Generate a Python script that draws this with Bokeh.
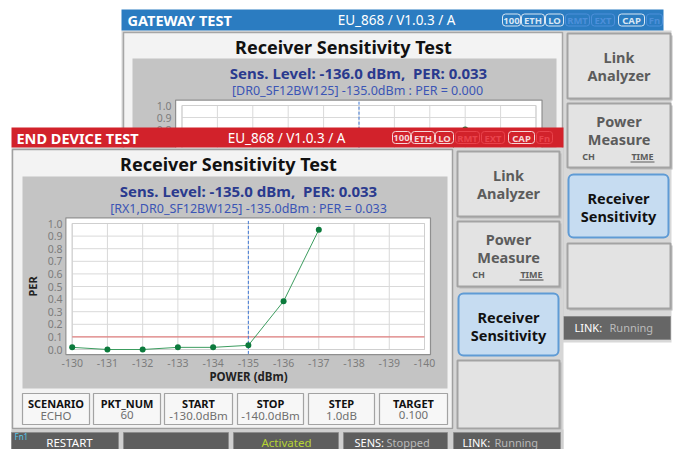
import numpy as np
from bokeh.plotting import figure
from bokeh.models import Range1d
from bokeh.core.properties import value
from bokeh.embed import file_html
from bokeh.resources import INLINE

# ---------------- data ----------------
ed_power = [-130, -131, -132, -133, -134, -135, -136, -137]
ed_per = [0.017, 0.0, 0.0, 0.017, 0.017, 0.033, 0.383, 0.95]
gw_power = [-130, -131, -132, -133, -134, -135, -136, -137, -138]
gw_per = [0.0, 0.0, 0.0, 0.0, 0.0, 0.0, 0.033, 0.35, 0.8]
ed_marker = -135.0
gw_marker = -135.0
target_per = 0.1
x_ticks = [-130, -131, -132, -133, -134, -135, -136, -137, -138, -139, -140]
x_tick_labels = [str(v) for v in x_ticks]
y_ticks = [0.0, 0.1, 0.2, 0.3, 0.4, 0.5, 0.6, 0.7, 0.8, 0.9, 1.0]
y_tick_labels = ["%.1f" % v for v in y_ticks]
param_names = ["SCENARIO", "PKT_NUM", "START", "STOP", "STEP", "TARGET"]
param_values = ["ECHO", "60", "-130.0dBm", "-140.0dBm", "1.0dB", "0.100"]
icons = ["100", "ETH", "LO", "RMT", "EXT", "CAP", "Fn"]
icons_on = [True, True, True, False, False, True, False]

FONT = value("Noto Sans")
NB = "\u00a0"
W, H = 677, 449

p = figure(width=W, height=H, output_backend="svg", toolbar_location=None,
           x_range=Range1d(0, W), y_range=Range1d(H, 0), min_border=0,
           x_axis_type=None, y_axis_type=None)
p.grid.visible = False
p.outline_line_color = None
p.background_fill_color = "white"
p.border_fill_color = "white"


def lin_range(va, pa, vb, pb, p0, p1):
    k = (vb - va) / (pb - pa)
    return Range1d(start=va + (p0 - pa) * k, end=va + (p1 - pa) * k)


p.extra_x_ranges = {
    "ed_x": lin_range(-130, 71.7, -140, 424.0, 0, W),
    "gw_x": lin_range(-130, 181.5, -140, 535.5, 0, W),
}
p.extra_y_ranges = {
    "ed_y": lin_range(0, 349.0, 1, 223.0, H, 0),
    "gw_y": lin_range(0, 225.0, 1, 105.0, H, 0),
}


def rect(l, r, t, b, fill, line=None, lw=1, radius=0, xr="default", yr="default"):
    kw = {}
    if radius:
        kw["border_radius"] = radius
    p.quad(left=[l], right=[r], top=[t], bottom=[b], fill_color=fill,
           line_color=line, line_width=lw, x_range_name=xr, y_range_name=yr, **kw)


def txt(x, y, s, size, color, bold=False, align="center", angle=0, xr="default", yr="default"):
    if not isinstance(x, list):
        x, y, s = [x], [y], [s]
    p.text(x=x, y=y, text=s, text_font=FONT, text_font_size="%.1fpx" % size,
           text_color=color, text_font_style="bold" if bold else "normal",
           text_align=align, text_baseline="middle", angle=angle,
           x_range_name=xr, y_range_name=yr)


def header(l, r, t, b, color, title, title_x, center_x, icon_x0, on_col, off_col):
    rect(l, r, t, b, color)
    cy = (t + b) / 2
    txt(title_x, cy, title, 14.5, "white", bold=True, align="left")
    txt(center_x, cy, "EU_868 / V1.0.3 / A", 13.5, "white")
    widths = [18, 23, 18, 24, 23, 26, 16]
    gaps = [1, 1, 2, 2, 4, 2, 0]
    x = icon_x0
    for name, on, w, g in zip(icons, icons_on, widths, gaps):
        col = on_col if on else off_col
        rect(x, x + w, cy - 6, cy + 6, None, col, 1, radius=3)
        txt(x + w / 2, cy + 0.5, name, 9.5, col, bold=True)
        x += w + g


def button(l, r, t, b, lines, blue=False, sub=False):
    if blue:
        rect(l, r, t, b, "#c6dcf1", "#5f9bd5", 2, radius=5)
        col = "#111111"
    else:
        rect(l + 2, r + 2, t + 2, b + 2, "#b9b9b9")
        rect(l, r, t, b, "#e3e3e3", "#a3a3a3", 2)
        col = "#5c5c5c"
    cx = (l + r) / 2
    if lines:
        top = t + 23 if not sub else t + 17
        for i, s in enumerate(lines):
            txt(cx, top + 18 * i, s, 14.5, col, bold=True)
    if sub:
        yy = t + 36 + 17
        txt(l + 21, yy, "CH", 9, col, bold=True)
        txt(r - 28, yy, "TIME", 9, col, bold=True)
        p.segment(x0=[r - 40], x1=[r - 16], y0=[yy + 5.5], y1=[yy + 5.5],
                  line_color=col, line_width=1.2)


def chart(xr, yr, xs, ys, marker, tick_x, tick_y_filter, xlab_y):
    rect(-129.82, -140.17, 1.045, -0.04, "white", "#8f8f8f", 1.2, xr=xr, yr=yr)
    p.segment(x0=x_ticks, x1=x_ticks, y0=[0] * len(x_ticks), y1=[1] * len(x_ticks),
              line_color="#d9d9d9", line_width=1, x_range_name=xr, y_range_name=yr)
    p.segment(x0=[-130] * len(y_ticks), x1=[-140] * len(y_ticks), y0=y_ticks, y1=y_ticks,
              line_color="#d9d9d9", line_width=1, x_range_name=xr, y_range_name=yr)
    rect(-130, -140, 1, 0, None, "#cfcfcf", 1, xr=xr, yr=yr)
    p.segment(x0=[-130], x1=[-140], y0=[target_per], y1=[target_per],
              line_color="#e36a6a", line_width=1, x_range_name=xr, y_range_name=yr)
    p.segment(x0=[marker], x1=[marker], y0=[-0.035], y1=[1.035],
              line_color="#3f78d6", line_width=1, line_dash="3 2",
              x_range_name=xr, y_range_name=yr)
    p.line(x=xs, y=ys, line_color="#3c9c5f", line_width=1,
           x_range_name=xr, y_range_name=yr)
    p.scatter(x=xs, y=ys, size=6, fill_color="#0c7a3c", line_color=None,
              x_range_name=xr, y_range_name=yr)
    sel = [i for i, v in enumerate(y_ticks) if tick_y_filter(v)]
    txt([tick_x] * len(sel), [y_ticks[i] for i in sel], [y_tick_labels[i] for i in sel],
        10.5, "#7c7c7c", align="right", xr="default", yr=yr)
    if xlab_y is not None:
        txt(x_ticks, [xlab_y] * len(x_ticks), x_tick_labels, 10.5, "#7c7c7c",
            xr=xr, yr="default")


# ================= GATEWAY WINDOW (background) =================
rect(121, 671, 30, 342, "#d8d8d8")
header(121, 663, 9, 30, "#2b7cc1", "GATEWAY TEST", 127, 396, 502, "#d9e7f4", "#4d8fda")
rect(123, 562, 32, 330, "#f3f3f3", "#a6a6a6", 1.5)
txt(343, 46, "Receiver Sensitivity Test", 18, "#111111", bold=True)
rect(132, 556, 58, 330, "#c4c4c4")
txt(358, 72, "Sens. Level: -136.0 dBm," + NB + " PER: 0.033", 15, "#2a3a8e", bold=True)
txt(357, 90, "[DR0_SF12BW125] -135.0dBm : PER = 0.000", 12.5, "#3b55b5")
chart("gw_x", "gw_y", gw_power, gw_per, gw_marker, 171, lambda v: v >= 0.8, None)

button(567, 670, 33, 98, ["Link", "Analyzer"])
button(567, 670, 103, 167, ["Power", "Measure"], sub=True)
button(568, 668, 174, 237, ["Receiver", "Sensitivity"], blue=True)
button(567, 670, 243, 308, [])
rect(563, 670, 316, 339, "#666666", "#8a8a8a", 1)
txt(574, 327, "LINK:", 11, "white", align="left")
txt(609, 327, "Running", 11, "#bcbcbc", align="left")

# ================= END DEVICE WINDOW (front) =================
rect(11, 563, 147, 449, "#d6d6d6")
header(11, 563, 127, 147, "#d2222b", "END DEVICE TEST", 16, 286, 392, "#f6d6d6", "#e9434c")
rect(12, 452, 149, 428, "#f3f3f3", "#a0a0a0", 1.5)
txt(228, 163, "Receiver Sensitivity Test", 18, "#111111", bold=True)
rect(22, 447, 176, 388, "#c4c4c4")
txt(248, 190, "Sens. Level: -135.0 dBm," + NB + " PER: 0.033", 15, "#2a3a8e", bold=True)
txt(248, 207.5, "[RX1,DR0_SF12BW125] -135.0dBm : PER = 0.033", 12.5, "#3b55b5")
chart("ed_x", "ed_y", ed_power, ed_per, ed_marker, 62, lambda v: True, 362.5)
txt(31.5, 286, "PER", 11, "#222222", bold=True, angle=np.pi / 2)
txt(248, 376, "POWER (dBm)", 11.5, "#222222", bold=True)

param_pos = [(22, 89), (93, 160), (164, 232), (237, 303), (308, 374), (379, 447)]
for (l, r), name, val in zip(param_pos, param_names, param_values):
    rect(l, r, 393, 424, "#f7f7f7", "#a3a3a3", 1.2)
    txt((l + r) / 2, 402.5, name, 11, "#111111", bold=True)
    txt((l + r) / 2, 414.5, val, 11.5, "#6f6f6f")

button(457, 559, 151, 216, ["Link", "Analyzer"])
button(457, 559, 221, 286, ["Power", "Measure"], sub=True)
button(458, 558, 293, 355, ["Receiver", "Sensitivity"], blue=True)
button(457, 559, 360, 428, [])

# bottom bar
rect(11, 563, 429, 449, "#cfcfcf")
for l, r in [(11, 118), (123, 228), (233, 338), (343, 447), (453, 560)]:
    rect(l, r, 432, 452, "#5e5e5e", "#8c8c8c", 1)
txt(14, 436, "Fn1", 8, "#58c6e6", align="left")
txt(69, 441.5, "RESTART", 11.5, "white")
txt(286, 441.5, "Activated", 11.5, "#b6d334")
txt(354, 441.5, "SENS:", 11, "white", align="left")
txt(386, 441.5, "Stopped", 11, "#b9b9b9", align="left")
txt(462, 441.5, "LINK:", 11, "white", align="left")
txt(494, 441.5, "Running", 11, "#b9b9b9", align="left")

open("out.html", "w").write(file_html(p, INLINE))
